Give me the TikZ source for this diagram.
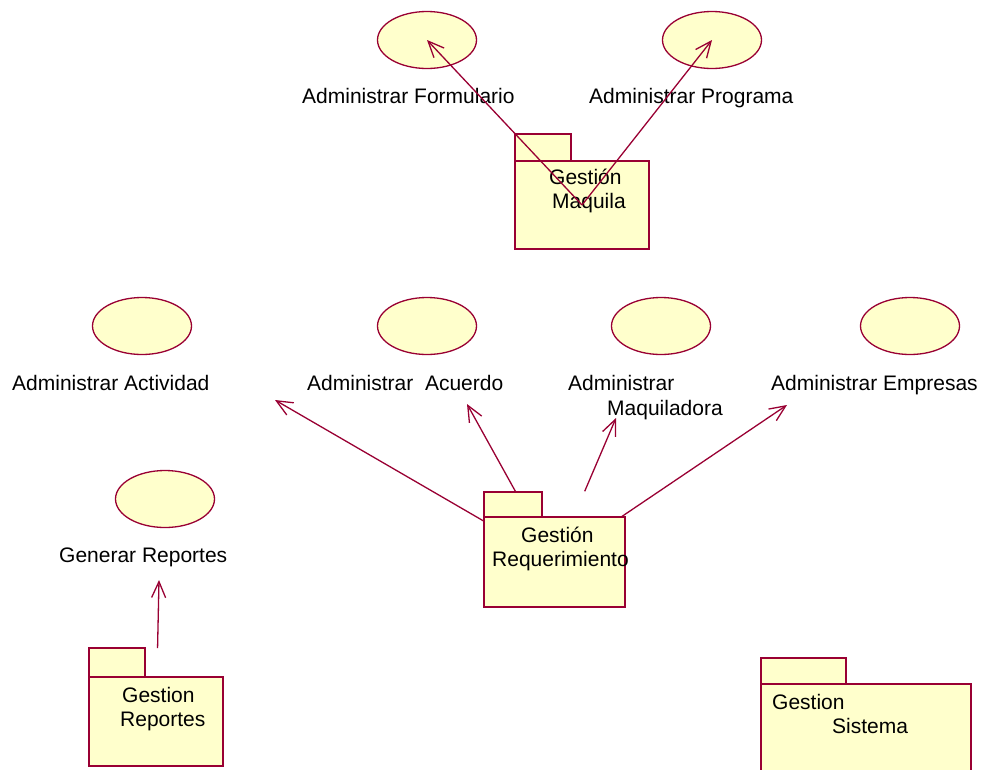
\documentclass[tikz,border=0pt]{standalone}
\usepackage{fontspec}
\setmainfont{Liberation Sans}
\usetikzlibrary{arrows.meta,%
	shapes.geometric}
\definecolor{roseline}{RGB}{153,0,51}
\definecolor{rosefill}{RGB}{255,255,204}

\begin{document}
\begin{tikzpicture}[x=1pt,y=-1pt,
	use_case/.style={ellipse,draw=roseline,fill=rosefill,line width=1.3pt,minimum width=99pt,minimum height=57pt,inner sep=0pt},
	pkg_body/.style={rectangle,draw=roseline,fill=rosefill,line width=1.3pt,inner sep=0pt,outer sep=0pt},
	pkg_tab/.style={draw=roseline,fill=rosefill,line width=1.3pt},
	lbl/.style={font=\fontsize{21}{24}\selectfont,inner sep=0pt,anchor=base west},
	dep/.style={draw=roseline,line width=1.3pt,-{Straight Barb[length=16pt,width=14pt]}}]

		\useasboundingbox (0,0) rectangle (982,769);
		\clip (0,0) rectangle (982,769);

		% casos de uso
		\node[use_case] (1) at (427,40) {};
		\node[use_case] (2) at (712,40) {};
		\node[use_case] (3) at (142,326) {};
		\node[use_case] (4) at (427,326) {};
		\node[use_case] (5) at (661,326) {};
		\node[use_case] (6) at (910,326) {};
		\node[use_case] (7) at (165,499) {};

		\node[lbl] (l1) at (302,103) {Administrar Formulario};
		\node[lbl] (l2) at (589,103) {Administrar Programa};
		\node[lbl] (l3) at (12,390) {Administrar Actividad};
		\node[lbl] (l4) at (307,390) {Administrar\ \ Acuerdo};
		\node[lbl] (l5) at (568,390) {Administrar};
		\node[lbl] (l5b) at (607,415) {Maquiladora};
		\node[lbl] (l6) at (771,390) {Administrar Empresas};
		\node[lbl] (l7) at (59,562) {Generar Reportes};

		% paquetes
		\node[pkg_body,minimum width=134pt,minimum height=88pt] (8) at (582,205) {};
		\node[pkg_body,minimum width=141pt,minimum height=90pt] (9) at (554.5,562) {};
		\node[pkg_body,minimum width=134pt,minimum height=89pt] (10) at (156,721.5) {};
		\node[pkg_body,minimum width=210pt,minimum height=90pt] (11) at (866,729) {};

		\coordinate (a3) at (275,400);
		\coordinate (a4) at (467,404);
		\coordinate (a5) at (616,418);
		\coordinate (a6) at (787,405);
		\coordinate (a7) at (159,580);

		\draw[dep] (9) -- (a3);
		\draw[dep] (9) -- (a4);
		\draw[dep,shorten <=28pt] (9) -- (a5);
		\draw[dep] (9) -- (a6);
		\draw[dep,shorten <=29pt] (10) -- (a7);

		\draw[pkg_tab] (8.north west) rectangle ++(56,-27);
		\draw[pkg_tab] (9.north west) rectangle ++(58,-25);
		\draw[pkg_tab] (10.north west) rectangle ++(56,-29);
		\draw[pkg_tab] (11.north west) rectangle ++(85,-26);

		\node[lbl] (t8a) at (549,184) {Gestión};
		\node[lbl] (t8b) at (552,208) {Maquila};
		\node[lbl] (t9a) at (521,542) {Gestión};
		\node[lbl] (t9b) at (492,566) {Requerimiento};
		\node[lbl] (t10a) at (122,702) {Gestion};
		\node[lbl] (t10b) at (120,726) {Reportes};
		\node[lbl] (t11a) at (772,709) {Gestion};
		\node[lbl] (t11b) at (832,733) {Sistema};

		\draw[dep] (8.center) -- (1.center);
		\draw[dep] (8.center) -- (2.center);
		\end{tikzpicture}
\end{document}
